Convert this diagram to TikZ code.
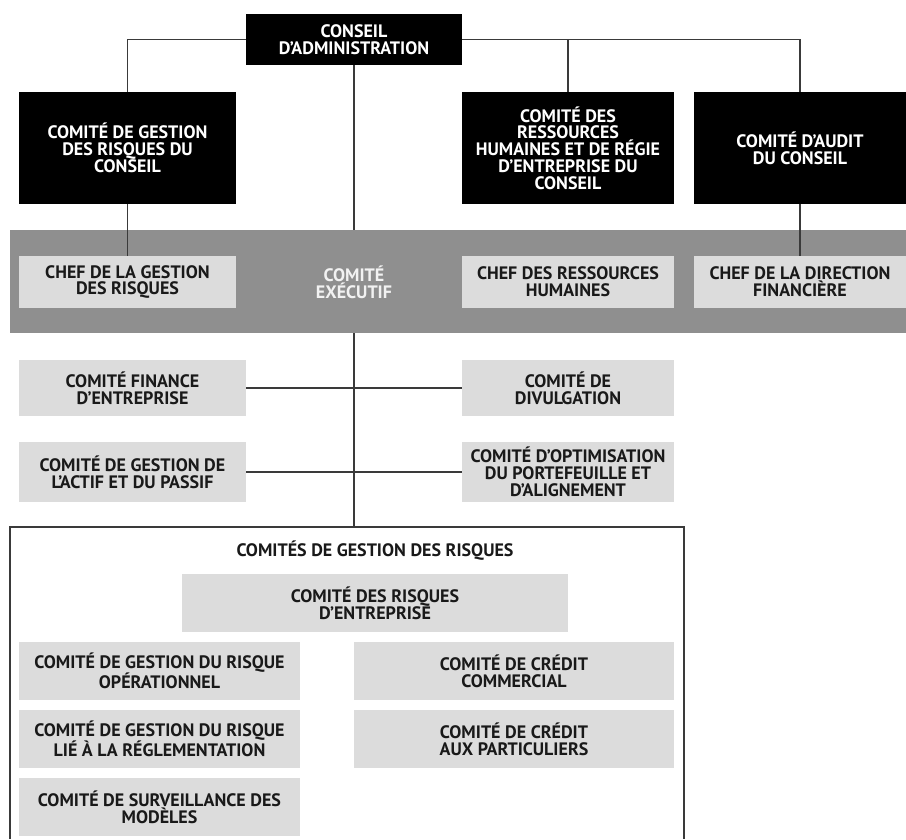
\documentclass[tikz,border=0pt]{standalone}
\usepackage{fontspec}
\setmainfont{PT Sans}
\usetikzlibrary{positioning}
\pgfdeclarelayer{lines}
\pgfdeclarelayer{bandl}
\pgfsetlayers{lines,bandl,main}
\definecolor{bandgray}{HTML}{8F8F8F}
\definecolor{lightbox}{HTML}{DCDCDC}
\definecolor{linegray}{HTML}{3A3A3A}
\tikzset{
  base/.style={inner sep=0pt, align=center, font=\bfseries\fontsize{18}{16.8}\selectfont},
  blackbox/.style={base, fill=black, text=white},
  greybox/.style={base, fill=lightbox, text=black!90},
  conn/.style={draw=linegray, line width=1.1pt},
}
\begin{document}
\begin{tikzpicture}[x=1pt,y=-1pt]
\useasboundingbox (0,0) rectangle (906,839);
% board level
\node[blackbox, minimum width=216pt, minimum height=51pt] (ca) at (354,39.5) {CONSEIL\\D’ADMINISTRATION};
\node[blackbox, minimum width=217pt, minimum height=112pt] (crc) at (127.5,148) {COMITÉ DE GESTION\\DES RISQUES DU\\CONSEIL};
\node[blackbox, minimum width=212pt, minimum height=112pt] (rh) at (568,148) {COMITÉ DES\\RESSOURCES\\HUMAINES ET DE RÉGIE\\D’ENTREPRISE DU\\CONSEIL};
\node[blackbox, minimum width=212pt, minimum height=112pt] (aud) at (800,148) {COMITÉ D’AUDIT\\DU CONSEIL};
% executive band
\begin{pgfonlayer}{bandl}
\fill[bandgray] (10,230) rectangle (906,333);
\end{pgfonlayer}
\node[base, text=white!95!black] (exe) at (354,282) {COMITÉ\\EXÉCUTIF};
\node[greybox, minimum width=217pt, minimum height=52pt] (chr) at (127.5,282) {CHEF DE LA GESTION\\DES RISQUES};
\node[greybox, minimum width=212pt, minimum height=52pt] (chh) at (568,282) {CHEF DES RESSOURCES\\HUMAINES};
\node[greybox, minimum width=212pt, minimum height=52pt] (chf) at (800,282) {CHEF DE LA DIRECTION\\FINANCIÈRE};
% committees
\node[greybox, minimum width=227pt, minimum height=56pt] (fin) at (132.5,388) {COMITÉ FINANCE\\D’ENTREPRISE};
\node[greybox, minimum width=212pt, minimum height=56pt] (div) at (568,388) {COMITÉ DE\\DIVULGATION};
\node[greybox, minimum width=227pt, minimum height=60pt] (act) at (132.5,472) {COMITÉ DE GESTION DE\\L’ACTIF ET DU PASSIF};
\node[greybox, minimum width=212pt, minimum height=60pt] (opt) at (568,472) {COMITÉ D’OPTIMISATION\\DU PORTEFEUILLE ET\\D’ALIGNEMENT};
% risk committees container
\coordinate (rtl) at (10,527);
\coordinate (rtr) at (684,527);
\coordinate (rbl) at (10,839);
\coordinate (rbr) at (684,839);
\coordinate (rtop) at (354,527);
\draw[conn] (rbl) -- (rtl) -- (rtr) -- (rbr);
\node[base, text=black!90] (title) at (375,551) {COMITÉS DE GESTION DES RISQUES};
\node[greybox, minimum width=386pt, minimum height=58pt] (ent) at (375,603) {COMITÉ DES RISQUES\\D’ENTREPRISE};
\node[greybox, minimum width=281pt, minimum height=58pt] (op) at (159.5,671) {COMITÉ DE GESTION DU RISQUE\\OPÉRATIONNEL};
\node[greybox, minimum width=281pt, minimum height=58pt] (reg) at (159.5,739) {COMITÉ DE GESTION DU RISQUE\\LIÉ À LA RÉGLEMENTATION};
\node[greybox, minimum width=281pt, minimum height=58pt] (mod) at (159.5,807) {COMITÉ DE SURVEILLANCE DES\\MODÈLES};
\node[greybox, minimum width=320pt, minimum height=58pt] (cc) at (514,671) {COMITÉ DE CRÉDIT\\COMMERCIAL};
\node[greybox, minimum width=320pt, minimum height=58pt] (cp) at (514,739) {COMITÉ DE CRÉDIT\\AUX PARTICULIERS};
% connectors
\begin{pgfonlayer}{lines}
\draw[conn] (crc.north) |- (ca.west);
\draw[conn] (ca.east) -| (aud.north);
\draw[conn] (rh.north) -- (rh.north |- ca.east);
\draw[conn] (ca.south) -- (rtop);
\end{pgfonlayer}
\draw[conn] (crc.south) -- (chr.north);
\draw[conn] (aud.south) -- (chf.north);
\draw[conn] (fin.east) -- (div.west);
\draw[conn] (act.east) -- (opt.west);
\end{tikzpicture}
\end{document}
